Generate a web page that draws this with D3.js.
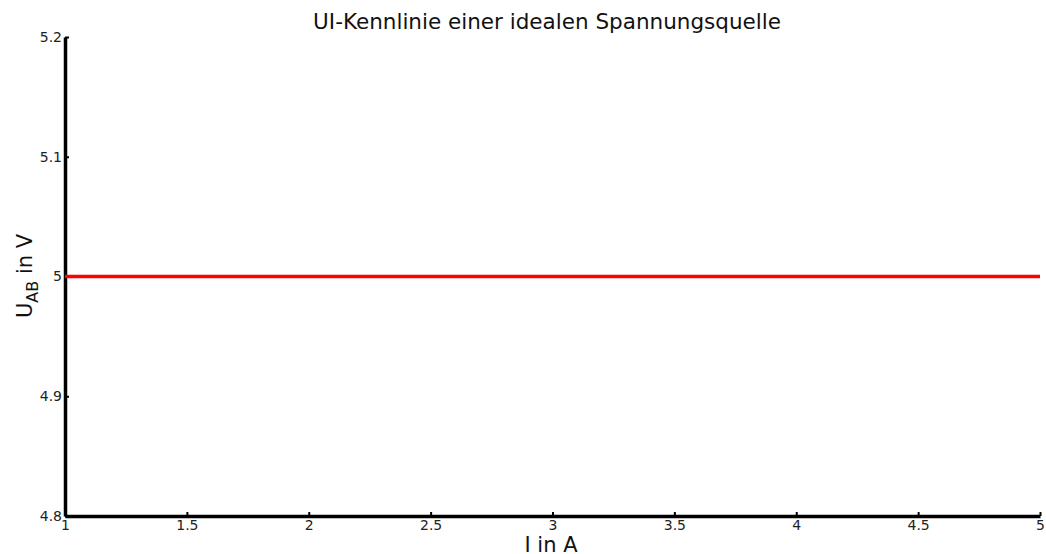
<!DOCTYPE html>
<html>
<head>
<meta charset="utf-8">
<script src="https://d3js.org/d3.v7.min.js"></script>
<style>
    body { margin: 0; background: #fff; }
    svg { display: block; font-family: 'DejaVu Sans', sans-serif; }
    .axis path, .axis line { stroke: #000; }
</style>
</head>
<body>
<svg id="chart" width="1046" height="554"></svg>
<script>
    // data
    var currentI = [1, 5];
    var voltageU = [5, 5];
    var xTicks = [1, 1.5, 2, 2.5, 3, 3.5, 4, 4.5, 5];
    var yTicks = [4.8, 4.9, 5, 5.1, 5.2];

    var svg = d3.select('#chart');
    var padLeft = 65, padRight = 1040, padTop = 37, padBottom = 516;

    var x = d3.scaleLinear().domain([1, 5]).range([padLeft, padRight]);
    var y = d3.scaleLinear().domain([4.8, 5.2]).range([padBottom, padTop]);

    svg.append('text')
        .attr('x', 547).attr('y', 29)
        .attr('text-anchor', 'middle')
        .attr('fill', '#111')
        .style('font-size', '21.5px')
        .text('UI-Kennlinie einer idealen Spannungsquelle');

    var xAxis = svg.append('g')
        .attr('class', 'axis')
        .attr('transform', 'translate(0,' + padBottom + ')')
        .call(d3.axisBottom(x).tickValues(xTicks).tickFormat(d3.format('')).tickSizeInner(-4).tickSizeOuter(0).tickPadding(3));
    xAxis.attr('font-size', 14).attr('font-family', "'DejaVu Sans', sans-serif");
    xAxis.select('.domain').attr('stroke-width', 3.5);
    xAxis.selectAll('.tick line').attr('stroke-width', 2);
    xAxis.selectAll('.tick text')
        .attr('y', 3)
        .attr('dy', '0.75em')
        .attr('fill', '#222');

    var yAxis = svg.append('g')
        .attr('class', 'axis')
        .attr('transform', 'translate(' + padLeft + ',0)')
        .call(d3.axisLeft(y).tickValues(yTicks).tickFormat(d3.format('')).tickSizeInner(-4).tickSizeOuter(0).tickPadding(3));
    yAxis.attr('font-size', 14).attr('font-family', "'DejaVu Sans', sans-serif");
    yAxis.select('.domain').attr('stroke-width', 3.5);
    yAxis.selectAll('.tick line').attr('stroke-width', 2);
    yAxis.selectAll('.tick text')
        .attr('x', -3)
        .attr('fill', '#222');

    svg.append('text')
        .attr('x', 551).attr('y', 552)
        .attr('text-anchor', 'middle')
        .attr('fill', '#111')
        .style('font-size', '21px')
        .text('I in A');

    var yl = svg.append('text')
        .attr('transform', 'translate(32,276) rotate(-90)')
        .attr('text-anchor', 'middle')
        .attr('fill', '#111')
        .style('font-size', '21px');
    yl.append('tspan').text('U');
    yl.append('tspan').attr('dy', 6).style('font-size', '16px').text('AB');
    yl.append('tspan').attr('dy', -6).text(' in V');

    var line = d3.line()
        .x(function(d, i) { return x(currentI[i]); })
        .y(function(d) { return y(d); });

    svg.append('path')
        .datum(voltageU)
        .attr('d', line)
        .attr('fill', 'none')
        .attr('stroke', '#f00')
        .attr('stroke-width', 3.5);
</script>
</body>
</html>
